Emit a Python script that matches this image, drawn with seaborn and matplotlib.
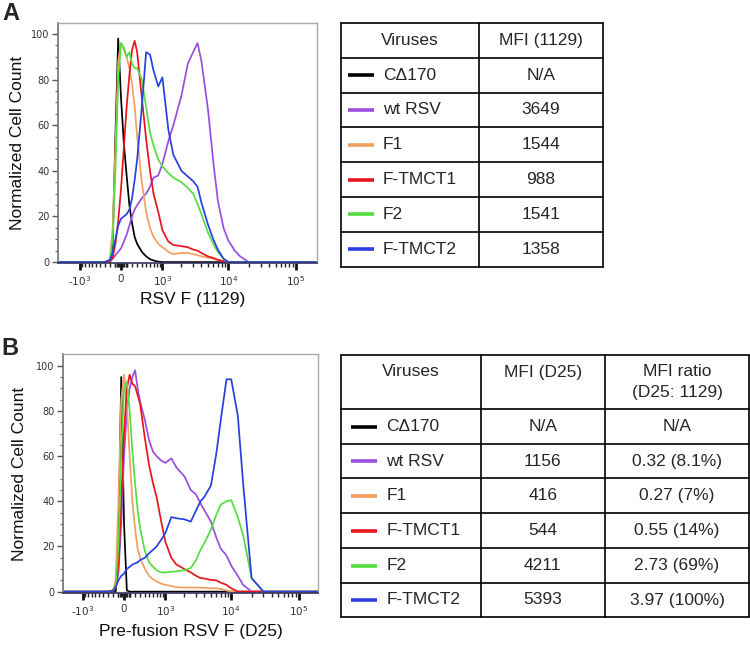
import numpy as np
import pandas as pd
import seaborn as sns
import matplotlib.pyplot as plt
from matplotlib.ticker import FixedLocator, NullFormatter

sns.set_theme(style="white")
plt.rcParams['font.family'] = ['Liberation Sans', 'DejaVu Sans']

# fluorescence grid (same for every histogram)
fluor = [-3000, -500, -300, -200, -150, -100, -50, 0, 50, 100, 150, 200, 250, 300,
         400, 500, 600, 700, 850, 1000, 1250, 1500, 2000, 2500, 3000, 3500, 4000,
         5000, 6000, 7000, 8500, 10000, 12500, 15000, 20000, 30000, 300000]

viruses = ["CΔ170", "wt RSV", "F1", "F-TMCT1", "F2", "F-TMCT2"]
colors = ["#000000", "#9b4ddf", "#f0a060", "#e8141c", "#55dd40", "#2840e0"]

# panel A, anti-F 1129
black_a = [0, 0, 0, 0.5, 8, 55, 98, 72, 52, 38, 25, 17, 11, 8, 4.5, 2.5, 1.3, 0.7, 0.2, 0,
           0, 0, 0, 0, 0, 0, 0, 0, 0, 0, 0, 0, 0, 0, 0, 0, 0]
purple_a = [0, 0, 0, 0.5, 1.5, 3, 4.5, 6, 9, 12, 16, 20, 23, 25, 28, 30, 33, 37, 38, 43,
            53, 60, 73, 87, 92, 96, 88, 67, 44, 27, 15, 9.5, 5, 2.5, 0, 0, 0]
orange_a = [0, 0, 0, 1, 15, 50, 88, 96, 93, 90, 85, 78, 68, 55, 35, 22, 15, 11, 8, 6.5,
            4.5, 3.5, 4, 4, 3.5, 3, 2.5, 2, 1.5, 1, 0.4, 0, 0, 0, 0, 0, 0]
red_a = [0, 0, 0, 0, 2, 8, 18, 32, 50, 68, 82, 93, 97, 92, 72, 54, 40, 30, 22, 14,
         9, 7.5, 7, 6.5, 5.5, 5, 4, 2.5, 1.8, 1, 0.4, 0, 0, 0, 0, 0, 0]
green_a = [0, 0, 0, 1, 10, 40, 80, 96, 94, 90, 92, 87, 85, 85, 80, 68, 57, 51, 45, 42,
           39, 37, 35, 32.5, 30, 25.5, 21, 13, 8, 4.5, 1.5, 0, 0, 0, 0, 0, 0]
blue_a = [0, 0, 0, 1, 4, 10, 16, 19, 20, 21, 23, 28, 36, 45, 68, 92, 91, 84, 77, 81,
          58, 47, 40, 37.5, 35.5, 33, 26, 16.5, 10, 5.5, 1.5, 0, 0, 0, 0, 0, 0]

# panel B, pre-fusion D25
black_b = [0, 0, 0, 0, 0, 20, 95, 30, 0.5, 0, 0, 0, 0, 0, 0, 0, 0, 0, 0, 0,
           0, 0, 0, 0, 0, 0, 0, 0, 0, 0, 0, 0, 0, 0, 0, 0, 0]
purple_b = [0, 0, 0, 0.5, 2, 8, 30, 60, 80, 90, 95, 98, 90, 84, 76, 67, 62, 60, 58, 57,
            59, 55, 51, 45, 43, 39, 36, 31, 24, 19, 16, 11.5, 7, 3, 0, 0, 0]
orange_b = [0, 0, 0, 0.5, 5, 40, 85, 96, 83, 60, 40, 28, 19, 15, 10, 7, 5.5, 4.5, 3.5, 3,
            2.5, 2, 1.8, 1.8, 1.8, 1.8, 1.7, 1.5, 1.5, 1.2, 0.5, 0, 0, 0, 0, 0, 0]
red_b = [0, 0, 0, 0.5, 2, 12, 40, 70, 90, 96, 92, 91, 87, 83, 68, 56, 48, 42, 31, 22,
         15, 12, 10, 8.5, 7, 6, 5.8, 5.2, 5, 4, 3, 1.5, 0, 0, 0, 0, 0]
green_b = [0, 0, 0, 0.5, 3, 20, 60, 90, 93, 80, 62, 48, 36, 28, 18, 13, 11, 9.5, 8.5, 8.5,
           8.8, 9, 9.5, 10.5, 14, 18.5, 21.5, 27.5, 34, 38.5, 40, 40.5, 33, 25, 6, 0, 0]
blue_b = [0, 0, 0, 0.5, 2, 5, 7, 8, 10, 11, 12, 12.5, 13, 14, 15, 17, 18.5, 20, 23, 26,
          33, 32.5, 32, 31, 36, 40, 42, 47, 61, 76, 94, 94, 78, 48, 6, 0, 0]

mfi_1129 = ["N/A", "3649", "1544", "988", "1541", "1358"]
mfi_d25 = ["N/A", "1156", "416", "544", "4211", "5393"]
mfi_ratio = ["N/A", "0.32 (8.1%)", "0.27 (7%)", "0.55 (14%)", "2.73 (69%)", "3.97 (100%)"]

xtick_vals = [-1000, 0, 1000, 10000, 100000]
xtick_labels = [r"-10$^3$", "0", r"10$^3$", r"10$^4$", r"10$^5$"]


def long_df(series):
    frames = []
    for name, vals in zip(viruses, series):
        frames.append(pd.DataFrame({"fluor": fluor, "count": vals, "virus": name}))
    return pd.concat(frames, ignore_index=True)


def histo(ax, series, xlim, ylim, xlabel):
    df = long_df(series)
    sns.lineplot(data=df, x="fluor", y="count", hue="virus", hue_order=viruses,
                 palette=dict(zip(viruses, colors)), estimator=None, sort=False,
                 linewidth=1.25, legend=False, ax=ax)
    ax.set_xscale("asinh", linear_width=520)
    ax.set_xlim(*xlim)
    ax.set_ylim(*ylim)
    # minor ticks like the cytometry software
    minor = [-t for t in range(100, 1000, 100)] + list(range(100, 1000, 100))
    minor += [m * 1000 for m in range(2, 10)] + [m * 10000 for m in range(2, 10)]
    zero_block = list(range(-100, 101, 20))
    ax.xaxis.set_major_locator(FixedLocator(xtick_vals))
    ax.set_xticklabels(xtick_labels)
    ax.xaxis.set_minor_locator(FixedLocator(minor + zero_block))
    ax.xaxis.set_minor_formatter(NullFormatter())
    ax.set_yticks([0, 20, 40, 60, 80, 100])
    ax.yaxis.set_minor_locator(FixedLocator([v for v in range(5, 105, 5) if v % 20]))
    ax.tick_params(axis="x", which="major", direction="out", length=5, width=2,
                   color="#111111", labelsize=7.5, labelcolor="#333333", pad=3,
                   bottom=True, labelfontfamily="DejaVu Sans")
    ax.tick_params(axis="x", which="minor", direction="out", length=3, width=1,
                   color="#222222", bottom=True)
    ax.tick_params(axis="y", which="major", direction="out", length=4, width=1,
                   color="#555555", labelsize=7, labelcolor="#333333", pad=2,
                   left=True, labelfontfamily="DejaVu Sans")
    ax.tick_params(axis="y", which="minor", direction="out", length=2.5, width=0.8,
                   color="#666666", left=True)
    for side in ["top", "right"]:
        ax.spines[side].set_color("#aaaaaa")
        ax.spines[side].set_linewidth(1.0)
    ax.spines["left"].set_color("#777777")
    ax.spines["bottom"].set_color("#333366")
    ax.spines["bottom"].set_linewidth(1.2)
    ax.set_xlabel(xlabel, fontsize=12.5, color="#111111")
    ax.set_ylabel("Normalized Cell Count", fontsize=12.5, color="#111111")


fig = plt.figure(figsize=(7.5, 6.45), dpi=100)
W, H = 750, 645

def px_axes(left, top, right, bottom):
    return fig.add_axes([left / W, 1 - bottom / H, (right - left) / W, (bottom - top) / H])

ax_a = px_axes(58, 23, 317, 263)
histo(ax_a, [black_a, purple_a, orange_a, red_a, green_a, blue_a],
      (-2190, 2.05e5), (-0.4, 104.8), "RSV F (1129)")
ax_a.yaxis.set_label_coords(-0.127, 0.5)
ax_a.xaxis.set_label_coords(0.52, -0.12)

ax_b = px_axes(63, 354, 318, 593)
histo(ax_b, [black_b, purple_b, orange_b, red_b, green_b, blue_b],
      (-2045, 1.92e5), (-0.6, 105.2), "Pre-fusion RSV F (D25)")
ax_b.yaxis.set_label_coords(-0.141, 0.5)
ax_b.xaxis.set_label_coords(0.5, -0.13)

fig.text(2 / W, 1 - 14 / H, "A", fontsize=17, fontweight="bold", va="center", ha="left")
fig.text(1 / W, 1 - 348 / H, "B", fontsize=17, fontweight="bold", va="center", ha="left")

# tables drawn on a full-figure overlay in pixel units
tab = fig.add_axes([0, 0, 1, 1])
tab.set_xlim(0, W)
tab.set_ylim(H, 0)
tab.axis("off")
tab.patch.set_alpha(0)


def draw_table(cols, rows, headers, columns, swatch_x, fs=12.5):
    lw = 1.2
    for y in rows:
        tab.plot([cols[0], cols[-1]], [y, y], color="black", lw=lw)
    for x in cols:
        tab.plot([x, x], [rows[0], rows[-1]], color="black", lw=lw)
    tall = (rows[1] - rows[0]) > 45
    for j, head in enumerate(headers):
        cx = (cols[j] + cols[j + 1]) / 2
        if isinstance(head, tuple):
            tab.text(cx, rows[0] + 17, head[0], ha="center", va="center", fontsize=fs)
            tab.text(cx, rows[0] + 38, head[1], ha="center", va="center", fontsize=fs)
        elif tall:
            tab.text(cx, rows[0] + 17, head, ha="center", va="center", fontsize=fs)
        else:
            tab.text(cx, (rows[0] + rows[1]) / 2, head, ha="center", va="center", fontsize=fs)
    for i, (name, col) in enumerate(zip(viruses, colors)):
        cy = (rows[i + 1] + rows[i + 2]) / 2
        tab.plot(swatch_x, [cy, cy], color=col, lw=2.6, solid_capstyle="butt")
        tab.text(swatch_x[1] + 9.5, cy, name, ha="left", va="center", fontsize=fs)
        for j, vals in enumerate(columns):
            cx = (cols[j + 1] + cols[j + 2]) / 2
            tab.text(cx, cy, vals[i], ha="center", va="center", fontsize=fs)


draw_table([341, 479, 603], [23, 57.7, 92.7, 127.3, 162.3, 196.7, 231.7, 266.7],
           ["Viruses", "MFI (1129)"], [mfi_1129], [348, 373.5])
draw_table([341, 480.7, 605, 749], [355, 409.3, 444, 478.3, 513.3, 548.3, 582.7, 617.3],
           ["Viruses", "MFI (D25)", ("MFI ratio", "(D25: 1129)")], [mfi_d25, mfi_ratio],
           [351, 376.7])

fig.savefig("out.png", dpi=100)
